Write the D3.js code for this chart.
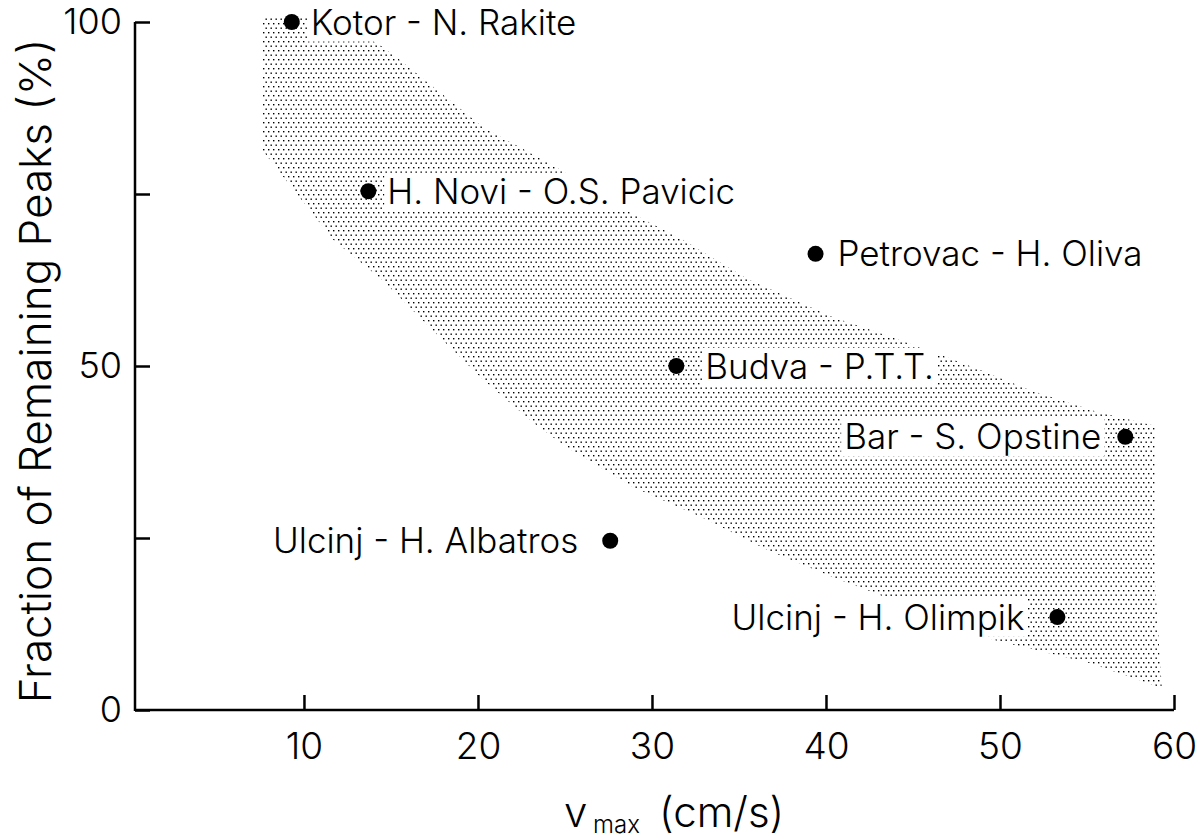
<!DOCTYPE html>
<html>
<head>
<meta charset="utf-8">
<script src="https://cdn.jsdelivr.net/npm/d3@7"></script>
<style>
  html, body { margin: 0; padding: 0; background: #fff; }
  svg text { font-family: Inter, "Open Sans", sans-serif; font-weight: 300; fill: #000; }
</style>
</head>
<body>
<svg id="chart" width="1196" height="839"></svg>
<script>
// ---- data ----
const sites = ["Kotor - N. Rakite", "H. Novi - O.S. Pavicic", "Petrovac - H. Oliva", "Budva - P.T.T.",
               "Bar - S. Opstine", "Ulcinj - H. Albatros", "Ulcinj - H. Olimpik"];
const vmax = [9.3, 13.7, 39.4, 31.4, 57.2, 27.6, 53.3];
const remaining = [100, 75.4, 66.3, 50.0, 39.7, 24.6, 13.5];

// shaded band envelope (data units)
const bandUpperX = [7.6, 11.8, 14.5, 15.5, 20.3, 24.5, 28.7, 31.8, 35.6, 40.4, 43.1, 46.2, 48.9, 51.7, 55.6, 58.9, 58.9, 59.3];
const bandUpperY = [100.7, 100.7, 96.4, 94.5, 84.7, 78.9, 72.4, 68.3, 62.5, 57.1, 54.8, 52.0, 49.4, 46.5, 43.3, 41.3, 18.9, 3.2];
const bandLowerX = [7.6, 9.4, 11.7, 14.5, 17.4, 20.3, 23.2, 25.1, 28.9, 32.8, 36.6, 40.4, 42.4, 49.6, 55.2, 59.3];
const bandLowerY = [81.4, 75.6, 68.3, 62.5, 55.2, 48.0, 41.7, 38.2, 32.4, 28.1, 23.3, 19.3, 17.4, 10.2, 6.8, 3.2];

const xTicks = [10, 20, 30, 40, 50, 60];
const yTicks = [0, 25, 50, 75, 100];
const yTickLabels = ["0", "", "50", "", "100"];

// label placement (layout, not data)
const labelSide = ["right", "right", "right", "right", "left", "left", "left"];
const labelGap  = [19, 19, 22, 29, 24, 32, 33];

// ---- layout ----
const FONT = "Inter, 'Open Sans', sans-serif";
const svg = d3.select("#chart");
const x = d3.scaleLinear().domain([0.29, 60]).range([135, 1174]);
const y = d3.scaleLinear().domain([0, 100]).range([710, 22]);

// dot pattern
const defs = svg.append("defs");
const pat = defs.append("pattern").attr("id", "dots").attr("patternUnits", "userSpaceOnUse")
  .attr("width", 5).attr("height", 9);
pat.append("rect").attr("x", 0.5).attr("y", 0.5).attr("width", 1.4).attr("height", 1.4).attr("fill", "#000");
pat.append("rect").attr("x", 3).attr("y", 5).attr("width", 1.4).attr("height", 1.4).attr("fill", "#000");

// band polygon
const bandPts = bandUpperX.map((d, i) => [x(d), y(bandUpperY[i])])
  .concat(bandLowerX.map((d, i) => [x(d), y(bandLowerY[i])]).reverse());
svg.append("path")
  .attr("d", d3.line()(bandPts) + "Z")
  .attr("fill", "url(#dots)");

// axes
const xAxis = d3.axisBottom(x).tickValues(xTicks).tickSizeInner(-15).tickSizeOuter(0).tickPadding(23).tickFormat(d3.format("d"));
const gx = svg.append("g").attr("transform", "translate(0,710)").call(xAxis);
gx.select(".domain").attr("stroke-width", 2.5).attr("d", "M135,0H1174");
gx.selectAll(".tick line").attr("stroke-width", 2.5);
gx.selectAll(".tick text").style("font-size", "37px").attr("dy", "0.71em");

const yAxis = d3.axisLeft(y).tickValues(yTicks).tickSizeInner(-15).tickSizeOuter(0).tickPadding(13)
  .tickFormat((d, i) => yTickLabels[i]);
const gy = svg.append("g").attr("transform", "translate(135,0)").call(yAxis);
gy.select(".domain").attr("stroke-width", 2.5).attr("d", "M0,22V711");
gy.selectAll(".tick line").attr("stroke-width", 2.5);
gy.selectAll(".tick text").style("font-size", "36px");
svg.selectAll(".tick text").style("font-family", FONT).style("font-weight", 300);

// axis titles
svg.append("text")
  .attr("transform", `translate(51,${371}) rotate(-90)`)
  .attr("text-anchor", "middle")
  .style("font-size", "44px")
  .text("Fraction of Remaining Peaks (%)");

svg.append("text").attr("x", 564).attr("y", 827).style("font-size", "42px").text("v");
svg.append("text").attr("x", 593).attr("y", 833).style("font-size", "24px").text("max");
svg.append("text").attr("x", 659).attr("y", 827).style("font-size", "42px").text("(cm/s)");

// labels with white background
const lg = svg.append("g");
sites.forEach((s, i) => {
  const cx = x(vmax[i]), cy = y(remaining[i]);
  const right = labelSide[i] === "right";
  const t = lg.append("text")
    .attr("x", right ? cx + labelGap[i] : cx - labelGap[i])
    .attr("y", cy)
    .attr("dy", "0.36em")
    .attr("text-anchor", right ? "start" : "end")
    .style("font-size", "35px")
    .text(s);
  const bb = t.node().getBBox();
  lg.insert("rect", "text")
    .attr("x", bb.x - 3).attr("y", bb.y + 3)
    .attr("width", bb.width + 6).attr("height", bb.height - 4)
    .attr("fill", "#fff");
});

// points
svg.append("g").selectAll("circle").data(sites).join("circle")
  .attr("cx", (d, i) => x(vmax[i]))
  .attr("cy", (d, i) => y(remaining[i]))
  .attr("r", 8)
  .attr("fill", "#000");
</script>
</body>
</html>
